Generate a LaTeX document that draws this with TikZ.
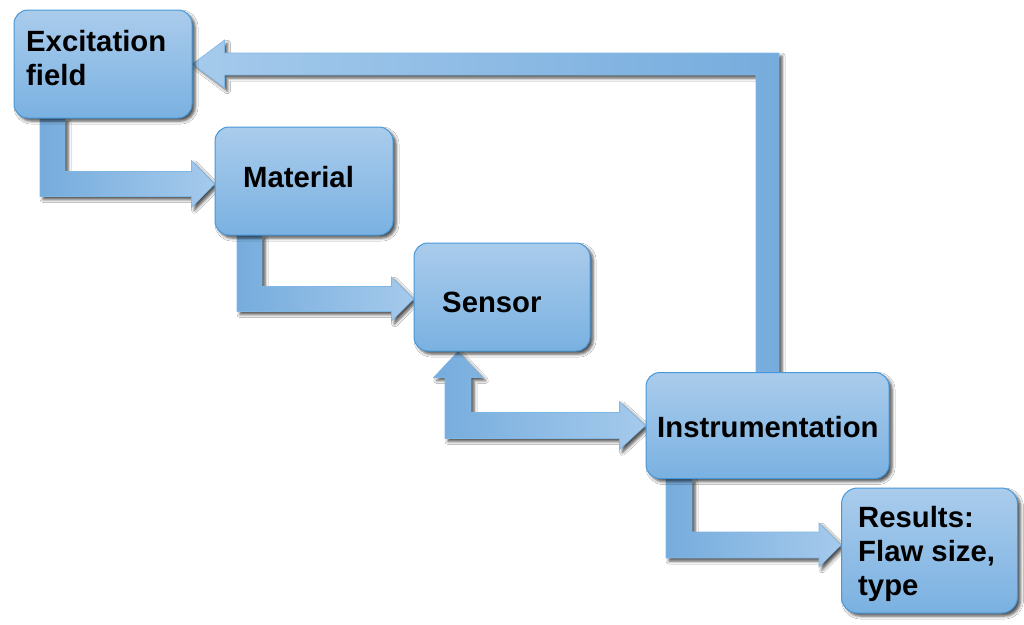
\documentclass[tikz,border=0pt]{standalone}
\usepackage{fontspec}
\setmainfont{Liberation Sans}
\usetikzlibrary{calc,shadows.blur}
\definecolor{boxtop}{RGB}{170,204,236}
\definecolor{boxbot}{RGB}{122,177,225}
\definecolor{boxedge}{RGB}{72,152,216}
\definecolor{arrdark}{RGB}{118,172,221}
\definecolor{arrlight}{RGB}{165,202,236}
\pgfdeclarelayer{background}
\pgfsetlayers{background,main}
\tikzset{
  box/.style={draw=boxedge, line width=1pt, rounded corners=14pt,
    top color=boxtop, bottom color=boxbot, inner sep=0pt,
    blur shadow={shadow xshift=3pt, shadow yshift=-3pt, shadow blur radius=3pt, shadow opacity=70}},
  lbl/.style={font=\bfseries\fontsize{29.3}{33.8}\selectfont, inner sep=0pt, align=left, text=black},
  arrowR/.style={draw=boxedge!70, line width=0.6pt, left color=arrdark, right color=arrlight,
    blur shadow={shadow xshift=3pt, shadow yshift=-3pt, shadow blur radius=3pt, shadow opacity=70}},
  arrowL/.style={arrowR, left color=arrlight, right color=arrdark},
}
\newcommand\elbowarrow[5]{%
  \path[arrowR] let \p1=(#1), \p2=(#2) in
    (\x1-#3pt,\y1) -- (\x1-#3pt,\y2-#3pt) -- (\x2-#5pt,\y2-#3pt) -- (\x2-#5pt,\y2-#4pt)
    -- (\x2,\y2) -- (\x2-#5pt,\y2+#4pt) -- (\x2-#5pt,\y2+#3pt) -- (\x1+#3pt,\y2+#3pt)
    -- (\x1+#3pt,\y1) -- cycle;}
\begin{document}
\begin{tikzpicture}[x=1pt,y=1pt]
\useasboundingbox (0,0) rectangle (1024,-624);

% boxes
\node[box, minimum width=178pt, minimum height=108pt] (ex)  at (103,-64) {};
\node[box, minimum width=178pt, minimum height=108pt] (mat) at (304,-181) {};
\node[box, minimum width=176pt, minimum height=108pt] (sen) at (502,-297) {};
\node[box, minimum width=243pt, minimum height=106pt] (ins) at (767.5,-425.5) {};
\node[box, minimum width=176pt, minimum height=125pt, rounded corners=16pt] (res) at (929.5,-550.5) {};

% labels (multi-line: base = last line)
\node[lbl, anchor=base west] (exT) at (26,-85.3) {Excitation\\field};
\node[lbl, anchor=base west] (matT) at (243,-187) {Material};
\node[lbl, anchor=base west] (senT) at (442,-312) {Sensor};
\node[lbl, anchor=base west] (insT) at (657,-437) {Instrumentation};
\node[lbl, anchor=base west] (resT) at (858,-595) {Results:\\Flaw size,\\type};

% connectors
\begin{pgfonlayer}{background}
  \fill[white] (0,0) rectangle (1024,-624);
  % Instrumentation -> Excitation field (feedback)
  \path[arrowL] let \p1=(ins.north), \p2=(ex.east) in
    (\x1-11.5pt,\y1) -- (\x1-11.5pt,\y2-11pt) -- (\x2+32pt,\y2-11pt) -- (\x2+32pt,\y2-24pt)
    -- (\x2,\y2) -- (\x2+32pt,\y2+24pt) -- (\x2+32pt,\y2+11pt) -- (\x1+11.5pt,\y2+11pt)
    -- (\x1+11.5pt,\y1) -- cycle;
  % Excitation -> Material
  \elbowarrow{$(ex.south west)+(39,0)$}{$(mat.west)+(0,-3)$}{12.5}{23.5}{23}
  % Material -> Sensor
  \elbowarrow{$(mat.south west)+(35,0)$}{$(sen.west)+(0,-2)$}{12.5}{22}{22}
  % Instrumentation -> Results
  \elbowarrow{$(ins.south west)+(33.5,0)$}{$(res.west)+(0,5.5)$}{13}{22}{22}
  % Sensor <-> Instrumentation
  \path[arrowR] let \p1=($(sen.south)+(-44,0)$), \p2=(ins.west) in
    (\x1,\y1) -- (\x1+24.5pt,\y1-26pt) -- (\x1+13pt,\y1-26pt) -- (\x1+13pt,\y2+13pt)
    -- (\x2-26pt,\y2+13pt) -- (\x2-26pt,\y2+24pt) -- (\x2,\y2) -- (\x2-26pt,\y2-24pt)
    -- (\x2-26pt,\y2-13pt) -- (\x1-13pt,\y2-13pt) -- (\x1-13pt,\y1-26pt)
    -- (\x1-24.5pt,\y1-26pt) -- cycle;
\end{pgfonlayer}
\end{tikzpicture}
\end{document}
